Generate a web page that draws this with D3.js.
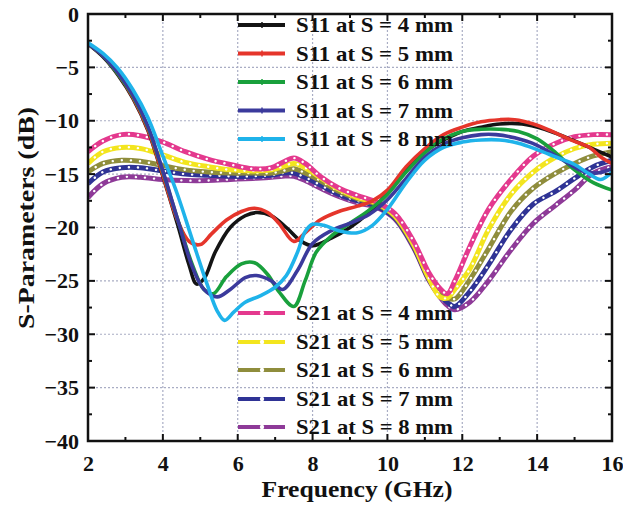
<!DOCTYPE html>
<html><head><meta charset="utf-8">
<script src="https://cdn.jsdelivr.net/npm/d3@7/dist/d3.min.js"></script>
<style>
html,body{margin:0;padding:0;background:#fff;}
svg text{font-family:"Liberation Serif","Times New Roman",Tinos,Times,serif !important;font-weight:700;fill:#111;}
</style></head>
<body><svg id="c" width="623" height="506"></svg>
<script>
// ---------- data ----------
const xTicks = [2,4,6,8,10,12,14,16];
const yTicks = [0,-5,-10,-15,-20,-25,-30,-35,-40];

const s11Names = ["S11 at S = 4 mm","S11 at S = 5 mm","S11 at S = 6 mm","S11 at S = 7 mm","S11 at S = 8 mm"];
const s21Names = ["S21 at S = 4 mm","S21 at S = 5 mm","S21 at S = 6 mm","S21 at S = 7 mm","S21 at S = 8 mm"];
const s11Colors = ["#141414","#e5352b","#19a03c","#3b3a9c","#1fb3ea"];
const s21Colors = ["#e4398e","#f3e51e","#8f8d3c","#2f3395","#8e3a98"];

const s11Freq4 = [2,2.4,2.8,3.2,3.6,4.0,4.4,4.7,4.9,5.1,5.4,5.8,6.2,6.5,6.9,7.3,7.7,8.0,8.5,9.0,9.5,10.0,10.5,11.0,11.5,12.0,12.5,13.0,13.6,14.2,14.8,15.4,16];
const s11Val4  = [-2.8,-4.0,-5.7,-7.9,-10.9,-15.2,-19.8,-23.5,-25.3,-24.8,-22.3,-20.0,-18.9,-18.6,-18.9,-20.0,-21.3,-21.7,-21.0,-20.0,-18.6,-16.8,-14.6,-12.9,-11.8,-11.0,-10.6,-10.3,-10.3,-10.8,-11.6,-12.5,-13.4];

const s11Freq5 = [2,2.4,2.8,3.2,3.6,4.0,4.4,4.7,5.0,5.3,5.7,6.1,6.45,6.8,7.1,7.5,7.8,8.2,8.7,9.2,9.6,10.0,10.5,11.0,11.5,12.0,12.5,13.0,13.4,13.9,14.4,14.9,15.4,15.7,16];
const s11Val5  = [-2.8,-3.9,-5.6,-7.8,-10.8,-15.1,-19.4,-21.3,-21.6,-20.6,-19.3,-18.5,-18.2,-18.6,-19.6,-21.3,-20.5,-19.3,-18.5,-18.0,-17.5,-16.5,-14.3,-12.6,-11.3,-10.6,-10.1,-9.9,-9.9,-10.3,-11.0,-11.8,-12.5,-13.4,-14.0];

const s11Freq6 = [2,2.4,2.8,3.2,3.6,4.0,4.4,4.8,5.1,5.35,5.7,6.1,6.45,6.8,7.1,7.5,7.8,8.1,8.5,9.0,9.5,10.0,10.5,11.0,11.5,12.0,12.5,13.0,13.5,14.0,14.5,15.0,15.5,16];
const s11Val6  = [-2.8,-3.9,-5.6,-7.7,-10.6,-14.8,-19.3,-23.6,-25.8,-26.2,-24.6,-23.4,-23.3,-24.4,-26.0,-27.4,-25.0,-22.3,-20.8,-19.6,-18.4,-16.9,-14.8,-13.0,-11.7,-11.0,-10.8,-10.8,-11.0,-11.7,-13.0,-14.6,-15.8,-16.5];

const s11Freq7 = [2,2.4,2.8,3.2,3.6,4.0,4.4,4.8,5.1,5.45,5.8,6.2,6.5,6.9,7.2,7.6,8.0,8.5,9.0,9.5,10.0,10.5,11.0,11.5,12.0,12.5,12.9,13.4,14.0,14.6,15.2,15.6,16];
const s11Val7  = [-2.8,-3.9,-5.5,-7.6,-10.5,-14.7,-19.3,-23.8,-25.8,-26.5,-25.8,-24.7,-24.5,-25.0,-25.8,-24.0,-21.5,-20.3,-19.6,-18.8,-17.4,-15.4,-13.4,-12.2,-11.6,-11.3,-11.3,-11.6,-12.3,-13.5,-14.7,-14.9,-14.5];

const s11Freq8 = [2,2.4,2.8,3.2,3.6,4.0,4.4,4.8,5.2,5.45,5.65,5.9,6.2,6.6,7.0,7.3,7.6,7.8,8.0,8.3,8.7,9.2,9.6,10.0,10.5,11.0,11.5,12.0,12.5,13.0,13.5,14.0,14.5,15.0,15.4,15.7,16];
const s11Val8  = [-2.7,-3.7,-5.1,-7.1,-9.7,-13.3,-17.0,-21.3,-25.5,-27.8,-28.7,-27.9,-27.0,-26.4,-25.6,-24.5,-22.3,-20.4,-19.7,-19.8,-20.3,-20.5,-19.8,-18.3,-15.8,-13.7,-12.5,-12.0,-11.8,-11.8,-12.1,-12.7,-13.4,-14.1,-15.0,-15.5,-14.8];

const s21Freq = [2,2.4,2.9,3.4,4.0,4.6,5.2,5.8,6.4,6.9,7.2,7.5,7.8,8.2,8.7,9.2,9.7,10.2,10.7,11.1,11.4,11.6,11.8,12.2,12.7,13.3,13.9,14.5,15.0,15.5,16];
const s21Val4 = [-12.9,-11.9,-11.3,-11.4,-12.0,-12.9,-13.6,-14.1,-14.5,-14.4,-13.9,-13.5,-14.0,-15.2,-16.3,-17.0,-17.6,-18.7,-21.3,-24.2,-25.7,-26.2,-25.0,-21.8,-18.3,-15.5,-13.3,-12.1,-11.5,-11.3,-11.3];
const s21Val5 = [-14.0,-12.9,-12.5,-12.6,-13.2,-13.9,-14.3,-14.6,-14.7,-14.6,-14.3,-14.0,-14.4,-15.3,-16.4,-17.2,-17.7,-18.9,-21.6,-24.7,-26.5,-26.6,-25.8,-23.9,-20.2,-16.9,-14.8,-13.4,-12.6,-12.2,-12.1];
const s21Val6 = [-14.8,-14.0,-13.7,-13.8,-14.2,-14.6,-14.8,-14.9,-14.9,-14.9,-14.7,-14.5,-14.9,-15.6,-16.6,-17.3,-17.8,-19.0,-21.7,-24.7,-26.2,-26.6,-26.7,-24.9,-22.0,-18.5,-16.3,-14.9,-14.0,-13.3,-12.9];
const s21Val7 = [-15.9,-14.8,-14.4,-14.4,-14.7,-15.0,-15.1,-15.2,-15.2,-15.1,-14.9,-14.9,-15.3,-16.0,-16.9,-17.5,-18.0,-19.1,-21.8,-24.8,-26.4,-27.0,-27.4,-26.0,-23.5,-20.2,-17.8,-16.6,-15.4,-14.3,-13.7];
const s21Val8 = [-17.2,-15.9,-15.3,-15.3,-15.5,-15.6,-15.6,-15.5,-15.4,-15.3,-15.2,-15.2,-15.6,-16.3,-17.1,-17.7,-18.1,-19.2,-21.9,-24.9,-26.5,-27.3,-27.7,-27.0,-25.0,-22.1,-19.6,-17.9,-16.5,-14.9,-14.3];

// ---------- build ----------
const s11 = [
  {f:s11Freq4,v:s11Val4},{f:s11Freq5,v:s11Val5},{f:s11Freq6,v:s11Val6},
  {f:s11Freq7,v:s11Val7},{f:s11Freq8,v:s11Val8}
].map((d,i)=>({name:s11Names[i],color:s11Colors[i],pts:d.f.map((f,j)=>[f,d.v[j]])}));
const s21 = [s21Val4,s21Val5,s21Val6,s21Val7,s21Val8]
  .map((v,i)=>({name:s21Names[i],color:s21Colors[i],pts:s21Freq.map((f,j)=>[f,v[j]])}));

const L=88,R=612,T=14,B=441;
const svg=d3.select("#c");
const x=d3.scaleLinear().domain([2,16]).range([L,R]);
const y=d3.scaleLinear().domain([-40,0]).range([B,T]);

// grid
const g=svg.append("g");
g.selectAll(".gx").data(xTicks.slice(1,-1)).join("line")
  .attr("x1",d=>x(d)).attr("x2",d=>x(d)).attr("y1",T).attr("y2",B)
  .attr("stroke","#a9adc4").attr("stroke-width",1.2).attr("stroke-dasharray","2,2");
g.selectAll(".gy").data(yTicks.slice(1,-1)).join("line")
  .attr("y1",d=>y(d)).attr("y2",d=>y(d)).attr("x1",L).attr("x2",R)
  .attr("stroke","#a9adc4").attr("stroke-width",1.2).attr("stroke-dasharray","2,2");

svg.append("clipPath").attr("id","clip").append("rect").attr("x",L).attr("y",T).attr("width",R-L).attr("height",B-T);

const line=d3.line().x(d=>x(d[0])).y(d=>y(d[1])).curve(d3.curveCatmullRom.alpha(0.5));
const plot=svg.append("g").attr("clip-path","url(#clip)");

s21.slice().reverse().forEach(s=>{
  plot.append("path").attr("d",line(s.pts)).attr("fill","none").attr("stroke",s.color)
    .attr("stroke-width",5).attr("stroke-linejoin","round");
  plot.append("path").attr("d",line(s.pts)).attr("fill","none").attr("stroke","#fff")
    .attr("stroke-width",2.4).attr("stroke-linecap","round").attr("stroke-dasharray","0.1,9");
});
s11.forEach(s=>{
  plot.append("path").attr("d",line(s.pts)).attr("fill","none").attr("stroke",s.color)
    .attr("stroke-width",3.6).attr("stroke-linejoin","round");
});

// ticks
const ticks=svg.append("g").attr("stroke","#111").attr("stroke-width",2);
d3.range(2,16.01,1).forEach(v=>{
  const len=(v%2===0)?7:4;
  ticks.append("line").attr("x1",x(v)).attr("x2",x(v)).attr("y1",B).attr("y2",B-len);
  ticks.append("line").attr("x1",x(v)).attr("x2",x(v)).attr("y1",T).attr("y2",T+len);
});
d3.range(-40,0.01,2.5).forEach(v=>{
  const len=(v%5===0)?7:4;
  ticks.append("line").attr("y1",y(v)).attr("y2",y(v)).attr("x1",L).attr("x2",L+len);
  ticks.append("line").attr("y1",y(v)).attr("y2",y(v)).attr("x1",R).attr("x2",R-len);
});
svg.append("rect").attr("x",L).attr("y",T).attr("width",R-L).attr("height",B-T)
  .attr("fill","none").attr("stroke","#111").attr("stroke-width",2.5);

const xa=svg.append("g").attr("transform",`translate(0,${B})`)
  .call(d3.axisBottom(x).tickValues(xTicks).tickSize(0).tickPadding(14).tickFormat(d3.format("d")));
xa.select(".domain").remove();
xa.attr("font-family",null).attr("font-size",null);
xa.selectAll("text").attr("font-size",22).attr("dy","0.71em");
const ya=svg.append("g").attr("transform",`translate(${L},0)`)
  .call(d3.axisLeft(y).tickValues(yTicks).tickSize(0).tickPadding(9).tickFormat(d3.format("d")));
ya.select(".domain").remove();
ya.attr("font-family",null).attr("font-size",null);
ya.selectAll("text").attr("font-size",22);

svg.append("text").attr("x",357).attr("y",497).attr("text-anchor","middle").attr("font-size",23)
  .attr("textLength",191).attr("lengthAdjust","spacingAndGlyphs").text("Frequency (GHz)");
svg.append("text").attr("transform","translate(34,218) rotate(-90)").attr("text-anchor","middle").attr("font-size",23)
  .attr("textLength",222).attr("lengthAdjust","spacingAndGlyphs").text("S-Parameters (dB)");

const lg1=[25,53.5,82,110.5,139];
s11.forEach((s,i)=>{
  const yy=lg1[i];
  svg.append("line").attr("x1",238).attr("x2",285).attr("y1",yy).attr("y2",yy).attr("stroke",s.color).attr("stroke-width",4);
  svg.append("line").attr("x1",262).attr("x2",262).attr("y1",yy-3).attr("y2",yy+3).attr("stroke",s.color).attr("stroke-width",1.5);
  svg.append("text").attr("x",296).attr("y",yy+7).attr("font-size",21).attr("textLength",157)
    .attr("lengthAdjust","spacingAndGlyphs").text(s.name);
});
const lg2=[313,342,370,399,427];
s21.forEach((s,i)=>{
  const yy=lg2[i];
  svg.append("line").attr("x1",238).attr("x2",285).attr("y1",yy).attr("y2",yy).attr("stroke",s.color).attr("stroke-width",4);
  svg.append("circle").attr("cx",262).attr("cy",yy).attr("r",2.2).attr("fill","#fff");
  svg.append("text").attr("x",296).attr("y",yy+7).attr("font-size",21).attr("textLength",157)
    .attr("lengthAdjust","spacingAndGlyphs").text(s.name);
});
</script></body></html>
